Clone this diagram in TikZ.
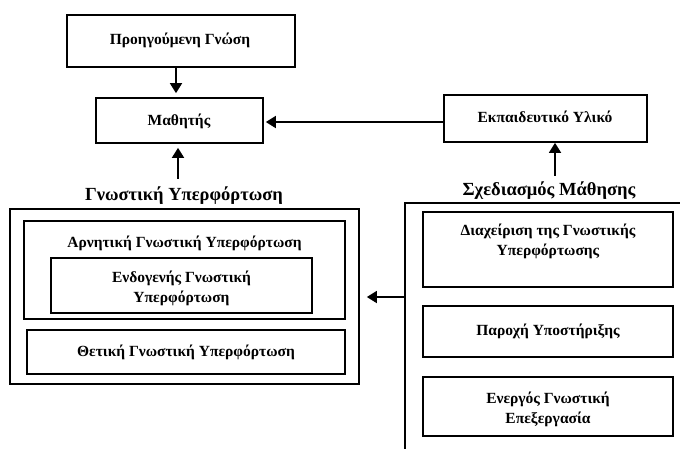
\documentclass[tikz,border=0pt]{standalone}
\usepackage{fontspec}
\setmainfont{Liberation Serif}
\usetikzlibrary{arrows.meta}
\begin{document}
\begin{tikzpicture}[x=1pt,y=-1pt,
  box/.style={draw,line width=1.7pt,inner sep=0pt},
  txt/.style={font=\bfseries\fontsize{15.5}{20}\selectfont,align=center,inner sep=0pt},
  ttl/.style={font=\bfseries\fontsize{18.5}{22}\selectfont,inner sep=0pt},
  arr/.style={line width=1.7pt,-{Triangle[length=10pt,width=12pt]}}]
\useasboundingbox (0,0) rectangle (680,448);
% top boxes
\node[box,minimum width=228pt,minimum height=52pt] (prior) at (181,41) {};
\node[txt] (priort) at (180,40) {Προηγούμενη Γνώση};
\node[box,minimum width=167pt,minimum height=45pt] (learner) at (179.5,120.5) {};
\node[txt] (learnert) at (179,121) {Μαθητής};
\node[box,minimum width=203pt,minimum height=47pt] (material) at (545.5,118.5) {};
\node[txt] (materialt) at (545,117) {Εκπαιδευτικό Υλικό};
% titles
\node[ttl] (cltitle) at (184,196) {Γνωστική Υπερφόρτωση};
\node[ttl] (dtitle) at (549,191) {Σχεδιασμός Μάθησης};
% left group
\node[box,minimum width=349pt,minimum height=175pt] (cl) at (184.5,296.5) {};
\node[box,minimum width=321pt,minimum height=98pt] (neg) at (184.5,270) {};
\node[txt] (negt) at (184.5,243) {Αρνητική Γνωστική Υπερφόρτωση};
\node[box,minimum width=261pt,minimum height=55pt] (endo) at (181.5,285.5) {};
\node[txt] (endot) at (181.5,288) {Ενδογενής Γνωστική\\Υπερφόρτωση};
\node[box,minimum width=318pt,minimum height=44pt] (pos) at (186,352) {};
\node[txt] (post) at (186,352) {Θετική Γνωστική Υπερφόρτωση};
% right group
\coordinate (dbl) at (405,452);
\coordinate (dtl) at (405,203);
\coordinate (dtr) at (684,203);
\draw[line width=1.7pt] (dbl) -- (dtl) -- (dtr);
\coordinate (dleft) at (405,297);
\node[box,minimum width=250pt,minimum height=75pt] (manage) at (548,249.5) {};
\node[txt] (managet) at (548,241.5) {Διαχείριση της Γνωστικής\\Υπερφόρτωσης};
\node[box,minimum width=250pt,minimum height=51pt] (support) at (548,331.5) {};
\node[txt] (supportt) at (548,331) {Παροχή Υποστήριξης};
\node[box,minimum width=250pt,minimum height=59pt] (active) at (548,406.5) {};
\node[txt] (activet) at (548,409.5) {Ενεργός Γνωστική\\Επεξεργασία};
% arrows
\draw[arr,shorten >=4pt] (prior.south -| 176,0) -- (learner.north -| 176,0);
\draw[arr,shorten >=2pt] (material.west |- 0,122) -- (learner.east |- 0,122);
\draw[arr,shorten >=4pt] (cltitle.north -| 178,0) ++(0,-8) -- (learner.south -| 178,0);
\draw[arr] (dtitle.north -| 555,0) ++(0,-6) -- (material.south -| 555,0);
\draw[arr,shorten >=7pt] (dleft) -- (cl.east |- dleft);
\end{tikzpicture}
\end{document}
